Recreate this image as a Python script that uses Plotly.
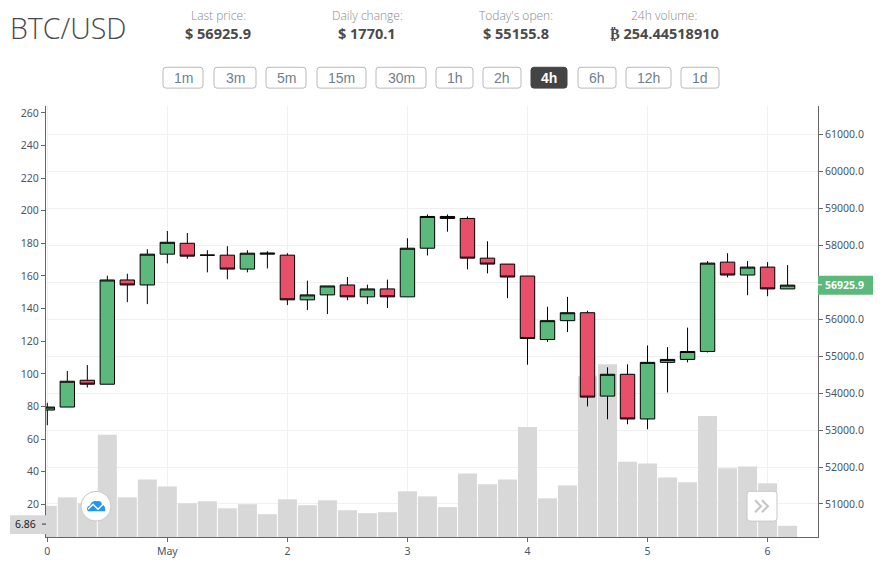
import plotly.graph_objects as go

# plot box in page pixels
L, R, T, B = 46, 818, 106, 540
W, H = 884, 570
BODY = 8  # the page adds this much around the figure

def px(x):
  return (x - L) / (R - L)

def py(y):
  return (B - y) / (B - T)

idx = list(range(38))
opens = [53543,53624,54350,54242,57065,56930,57764,58059,57737,57737,57360,57764,57737,56527,56661,56930,
  56608,56823,56608,57925,58785,58731,57656,57495,57172,55452,55963,56178,53920,54511,53301,54834,54914,55129,
  57548,57199,57414,56823]
closes = [53624,54323,54242,57065,56930,57764,58086,57710,57737,57360,57790,57790,56527,56661,56903,56608,
  56823,56608,57925,58785,58731,57656,57495,57145,55479,55963,56178,53893,54511,53301,54834,54914,55129,57522,
  57199,57414,56823,56925.9]
highs = [53740,54601,54762,57181,57235,57898,58391,58337,57871,57979,57871,57844,57790,57047,56903,57145,
  56939,57074,58194,58839,58839,58785,58113,57495,57172,56339,56608,56231,54699,54780,55291,55246,55774,57575,
  57790,57575,57548,57468]
lows = [53131,53624,54153,54242,56464,56411,57513,57638,57271,57083,57271,57378,56384,56249,56142,56518,
  56411,56303,56608,57728,58373,57351,57244,56572,54771,55389,55658,53642,53292,53158,53024,54018,54834,55102,
  57136,56652,56626,56823]
volumes = [19.1,24.3,20.7,62.7,24.3,35.3,31.0,20.7,21.9,17.6,20.1,14.0,23.1,19.5,22.5,16.4,14.6,15.2,28.0,24.9,
  18.3,38.9,32.3,35.3,67.5,23.7,31.6,98.6,105.9,46.2,45.0,36.5,33.5,74.2,42.2,43.2,32.9,6.86]

x_ticks = [0, 6, 12, 18, 24, 30, 36]
x_labels = ['0', 'May', '2', '3', '4', '5', '6']
vol_ticks = [20, 40, 60, 80, 100, 120, 140, 160, 180, 200, 220, 240, 260]
price_ticks = [51000, 52000, 53000, 54000, 55000, 56000, 57000, 58000, 59000, 60000, 61000]
price_labels = ['51000.0', '52000.0', '53000.0', '54000.0', '55000.0', '56000.0', '', '58000.0', '59000.0',
  '60000.0', '61000.0']  # 57000 sits under the last price tag

stats = [
  ('Last price:', '$ 56925.9', 218),
  ('Daily change:', '$ 1770.1', 367),
  ("Today's open:", '$ 55155.8', 516),
  ('24h volume:', '₿ 254.44518910', 664),
]
periods = ['1m', '3m', '5m', '15m', '30m', '1h', '2h', '4h', '6h', '12h', '1d']
period_left = [163, 214, 266, 317, 376, 436, 483, 531, 578, 626, 681]
period_right = [203, 256, 306, 366, 426, 473, 521, 567, 616, 671, 719]
active_period = '4h'

GREEN = '#5bb97b'
RED = '#e8506a'
TICK = '#4a5568'
GRID = '#f0f0f0'
AXIS = '#666666'

fig = go.Figure()
fig.add_trace(go.Bar(
  x=idx, y=volumes, yaxis='y', marker_color='#d8d8d8', marker_line_width=0,
  width=0.95, hoverinfo='skip', showlegend=False,
))
fig.add_trace(go.Candlestick(
  x=idx, open=opens, high=highs, low=lows, close=closes, yaxis='y2',
  increasing=dict(fillcolor=GREEN, line=dict(color='#000000', width=1)),
  decreasing=dict(fillcolor=RED, line=dict(color='#000000', width=1)),
  whiskerwidth=0, showlegend=False,
))

def rounded(x0, y0, x1, y1, r):
  return (f'M {px(x0+r)} {py(y0)} L {px(x1-r)} {py(y0)} Q {px(x1)} {py(y0)} {px(x1)} {py(y0+r)} '
          f'L {px(x1)} {py(y1-r)} Q {px(x1)} {py(y1)} {px(x1-r)} {py(y1)} '
          f'L {px(x0+r)} {py(y1)} Q {px(x0)} {py(y1)} {px(x0)} {py(y1-r)} '
          f'L {px(x0)} {py(y0+r)} Q {px(x0)} {py(y0)} {px(x0+r)} {py(y0)} Z')

shapes = []
notes = []

def label(x, y, text, size, color, family='Open Sans', xanchor='center', weight=None):
  notes.append(dict(
    x=px(x), y=py(y), xref='paper', yref='paper', text=text, showarrow=False,
    xanchor=xanchor, yanchor='middle', align='center', borderpad=0,
    font=dict(family=family, size=size, color=color, weight=weight),
  ))

# header
label(9, 27, 'BTC/USD', 28.5, '#4a4a4a', xanchor='left', weight=300)
for cap, val, cx in stats:
  label(cx, 15, cap, 12, '#8a8a8a', weight=300)
  label(cx, 33, val, 14.5, '#4a4a4a', weight=700)

# period buttons
for name, x0, x1 in zip(periods, period_left, period_right):
  on = name == active_period
  shapes.append(dict(
    type='path', xref='paper', yref='paper', path=rounded(x0, 67, x1, 88, 3),
    fillcolor='#444444' if on else '#ffffff', line=dict(color='#444444' if on else '#b9b9b9', width=1),
  ))
  label((x0 + x1) / 2, 78, name, 14, '#ffffff' if on else '#6f7f92', family='Liberation Sans',
        weight=700 if on else None)

# volume cursor tag
shapes.append(dict(type='rect', xref='paper', yref='paper', x0=px(10), x1=px(46), y0=py(537), y1=py(518),
                   fillcolor='#d8d8d8', line_width=0))
shapes.append(dict(type='line', xref='paper', yref='paper', x0=px(42), x1=px(46), y0=py(527), y1=py(527),
                   line=dict(color='#333333', width=1)))
label(25, 527, '6.86', 10.5, '#222222', family='Noto Sans')

# last price tag
shapes.append(dict(type='rect', xref='paper', yref='paper', x0=px(818), x1=px(873), y0=py(296), y1=py(277),
                   fillcolor=GREEN, line_width=0))
shapes.append(dict(type='line', xref='paper', yref='paper', x0=px(818), x1=px(822), y0=py(286), y1=py(286),
                   line=dict(color='#ffffff', width=1)))
label(845, 286, '<b>56925.9</b>', 10.5, '#ffffff', family='Noto Sans')

# floating buttons
shapes.append(dict(type='circle', xref='paper', yref='paper', x0=px(81), x1=px(111), y0=py(524), y1=py(494),
                   fillcolor='#ffffff', line=dict(color='#c8c8c8', width=1)))
shapes.append(dict(
  type='path', xref='paper', yref='paper', fillcolor='#2196f3', line_width=0,
  path=(f'M {px(88)} {py(514)} Q {px(85)} {py(510)} {px(90)} {py(508)} Q {px(92)} {py(503)} {px(97)} {py(504)} '
        f'Q {px(101)} {py(503)} {px(102)} {py(507)} Q {px(106)} {py(509)} {px(105)} {py(514)} Z'),
))
shapes.append(dict(
  type='path', xref='paper', yref='paper', line=dict(color='#ffffff', width=1.5),
  path=f'M {px(88)} {py(512)} L {px(93)} {py(507)} L {px(98)} {py(512)} L {px(103)} {py(507)}',
))
shapes.append(dict(type='path', xref='paper', yref='paper', path=rounded(747, 494, 777, 524, 3),
                   fillcolor='#ffffff', line=dict(color='#c8c8c8', width=1)))
for off in (0, 7):
  shapes.append(dict(
    type='path', xref='paper', yref='paper', line=dict(color='#c4c4c4', width=2),
    path=f'M {px(755+off)} {py(503)} L {px(761+off)} {py(509)} L {px(755+off)} {py(515)}',
  ))

fig.update_layout(
  width=W-BODY, height=H-BODY, margin=dict(l=L-BODY, r=W-R, t=T-BODY, b=H-B, pad=0),
  paper_bgcolor='#ffffff', plot_bgcolor='#ffffff',
  font=dict(family='Noto Sans', size=10.5, color=TICK),
  boxgap=0.28, boxgroupgap=0, bargap=0.05,
  showlegend=False, shapes=shapes, annotations=notes,
  xaxis=dict(
    range=[-0.065, 38.52], tickmode='array', tickvals=x_ticks, ticktext=x_labels,
    showgrid=True, gridcolor=GRID, gridwidth=1, zeroline=False,
    showline=True, linecolor=AXIS, linewidth=1, ticks='outside', ticklen=4, tickcolor=AXIS,
    rangeslider=dict(visible=False), tickfont=dict(size=10.5, color=TICK),
  ),
  yaxis=dict(
    side='left', range=[0, 264.2], tickmode='array', tickvals=vol_ticks,
    showgrid=False, zeroline=False, showline=True, linecolor=AXIS, linewidth=1,
    ticks='outside', ticklen=4, tickcolor=AXIS, tickfont=dict(size=10.5, color=TICK),
  ),
  yaxis2=dict(
    side='right', overlaying='y', range=[50105, 61776], tickmode='array', tickvals=price_ticks,
    ticktext=price_labels,
    showgrid=True, gridcolor=GRID, gridwidth=1, zeroline=False, showline=True, linecolor=AXIS, linewidth=1,
    ticks='outside', ticklen=4, tickcolor=AXIS, tickfont=dict(size=10.5, color=TICK),
  ),
)

fig.write_html("out.html")
